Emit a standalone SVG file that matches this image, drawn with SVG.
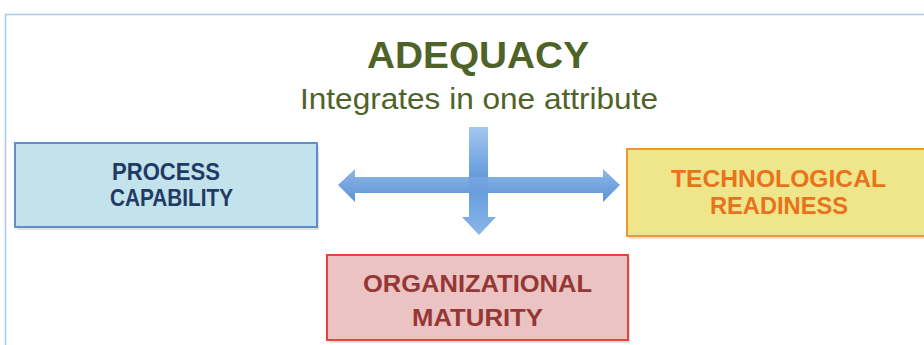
<svg xmlns="http://www.w3.org/2000/svg" width="924" height="345" viewBox="0 0 924 345">
<defs>
<style>
.title{font-family:"Liberation Sans",Arial,sans-serif;font-weight:bold;fill:#4f6228;text-anchor:middle}
.sub{font-family:"Liberation Sans",Arial,sans-serif;fill:#4f6228;text-anchor:middle}
.lbl{font-family:"Liberation Sans",Arial,sans-serif;font-weight:bold;font-size:23px;text-anchor:middle}
.box{stroke-width:2}
.shadow{fill:#000;opacity:0.12}
</style>
<linearGradient id="hg" x1="0" y1="0" x2="0" y2="1">
<stop offset="0" stop-color="#8fb8e8"/>
<stop offset="1" stop-color="#5a93d6"/>
</linearGradient>
<linearGradient id="vg" x1="0" y1="0" x2="0" y2="1">
<stop offset="0" stop-color="#a4c6f0"/>
<stop offset="0.5" stop-color="#5f98da"/>
<stop offset="1" stop-color="#8ab6ea"/>
</linearGradient>
</defs>
<rect width="924" height="345" fill="#ffffff"/>
<path d="M5.5,345 V14.5 H930" fill="none" stroke="#a9c8ea" stroke-width="1.5"/>
<g id="title">
<text class="title" x="478" y="68" font-size="36" textLength="222" lengthAdjust="spacingAndGlyphs">ADEQUACY</text>
<text class="sub" x="479" y="109" font-size="30" textLength="358" lengthAdjust="spacingAndGlyphs">Integrates in one attribute</text>
</g>
<g id="connectors">
<path d="M469,127 H488 V217 H496 L479,235 L462,217 H469 Z" fill="url(#vg)"/>
<path d="M338,185 L355,169 V177 H603 V169 L620,185 L603,202 V193 H355 V202 Z" fill="url(#hg)"/>
<path d="M469,177 H488 V193 H469 Z" fill="#6c9fdc" opacity="0.6"/>
</g>
<g id="process-capability">
<rect class="shadow" x="17" y="146" width="302" height="84"/>
<rect class="box" x="15" y="143" width="302" height="84" fill="#c2e2ec" stroke="#5d8fcb"/>
<text class="lbl" x="166" y="180" fill="#1f3a64" textLength="108" lengthAdjust="spacingAndGlyphs">PROCESS</text>
<text class="lbl" x="171.5" y="206" fill="#1f3a64" textLength="123" lengthAdjust="spacingAndGlyphs">CAPABILITY</text>
</g>
<g id="technological-readiness">
<rect class="shadow" x="629" y="152" width="302" height="87"/>
<rect class="box" x="627" y="149" width="302" height="87" fill="#efe68c" stroke="#f1962e"/>
<text class="lbl" x="778.5" y="187" fill="#e8731a" textLength="215" lengthAdjust="spacingAndGlyphs">TECHNOLOGICAL</text>
<text class="lbl" x="779" y="214" fill="#e8731a" textLength="138" lengthAdjust="spacingAndGlyphs">READINESS</text>
</g>
<g id="organizational-maturity">
<rect class="shadow" x="329" y="258" width="301" height="85"/>
<rect class="box" x="327" y="255" width="301" height="85" fill="#ebc3c3" stroke="#e8443a"/>
<text class="lbl" x="477.5" y="292" fill="#953735" textLength="229" lengthAdjust="spacingAndGlyphs">ORGANIZATIONAL</text>
<text class="lbl" x="477.5" y="326" fill="#953735" textLength="131" lengthAdjust="spacingAndGlyphs">MATURITY</text>
</g>
</svg>
